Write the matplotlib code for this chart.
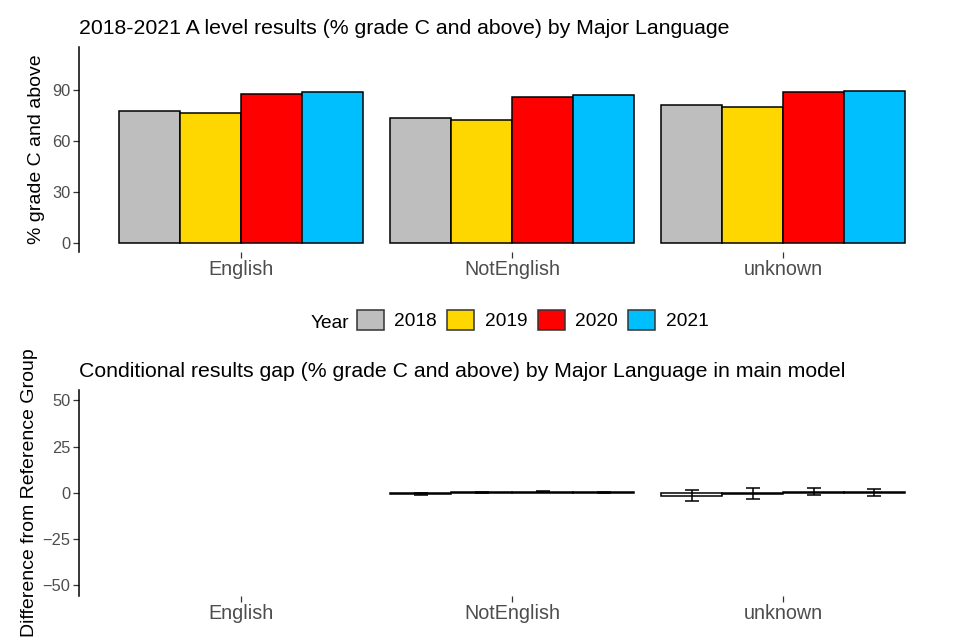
import numpy as np
import matplotlib.pyplot as plt
from matplotlib.patches import Patch

plt.rcParams['font.family'] = ['Liberation Sans', 'DejaVu Sans']

languages = ["English", "NotEnglish", "unknown"]
years = ["2018", "2019", "2020", "2021"]
colours = ["#BEBEBE", "#FFD700", "#FF0000", "#00BFFF"]

# % grade C and above, one list per year (English, NotEnglish, unknown)
pct_2018 = [77.8, 73.5, 81.2]
pct_2019 = [76.6, 72.4, 80.4]
pct_2020 = [88.0, 86.1, 89.2]
pct_2021 = [88.8, 86.9, 89.6]

# conditional gap vs reference group (English is the reference)
gap_2018 = [np.nan, -0.6, -1.5]
gap_2019 = [np.nan, 0.2, -0.5]
gap_2020 = [np.nan, 0.6, 0.6]
gap_2021 = [np.nan, 0.2, 0.3]
err_2018 = [np.nan, 0.6, 3.0]
err_2019 = [np.nan, 0.5, 2.9]
err_2020 = [np.nan, 0.4, 1.8]
err_2021 = [np.nan, 0.4, 1.9]

pct = [pct_2018, pct_2019, pct_2020, pct_2021]
gaps = [gap_2018, gap_2019, gap_2020, gap_2021]
errs = [err_2018, err_2019, err_2020, err_2021]

tick_grey = "#4D4D4D"
x = np.arange(len(languages))
w = 0.225


def style_axes(ax):
    for s in ["top", "right", "bottom"]:
        ax.spines[s].set_visible(False)
    ax.spines["left"].set_linewidth(1.1)
    ax.tick_params(axis="both", colors="#333333", labelcolor=tick_grey,
                   length=4, width=0.9)
    ax.tick_params(axis="x", labelsize=14.2, pad=2)
    ax.tick_params(axis="y", labelsize=11.8, pad=2)
    ax.set_xticks(x)
    ax.set_xticklabels(languages)
    ax.set_xlim(-0.6, 2.6)


fig = plt.figure(figsize=(9.6, 6.4), dpi=100)

ax1 = fig.add_axes([0.082, 0.606, 0.903, 0.321])
for i in range(len(years)):
    ax1.bar(x + (i - 1.5) * w, pct[i], width=w, color=colours[i],
            edgecolor="black", linewidth=1.1)
style_axes(ax1)
ax1.set_ylim(-5.1, 115.5)
ax1.set_yticks([0, 30, 60, 90])
ax1.set_ylabel("% grade C and above", fontsize=14, labelpad=5)
ax1.set_title("2018-2021 A level results (% grade C and above) by Major Language",
              loc="left", fontsize=15.3, pad=9)

ax2 = fig.add_axes([0.082, 0.069, 0.903, 0.322])
for i in range(len(years)):
    ax2.bar(x + (i - 1.5) * w, gaps[i], width=w, color="white",
            edgecolor="black", linewidth=1.1)
    ax2.errorbar(x + (i - 1.5) * w, gaps[i], yerr=errs[i], fmt="none",
                 ecolor="black", elinewidth=1.1, capsize=4.7, capthick=1.1)
style_axes(ax2)
ax2.set_ylim(-55.8, 55.8)
ax2.set_yticks([-50, -25, 0, 25, 50])
ax2.set_ylabel("Difference from Reference Group", fontsize=14, labelpad=3)
ax2.set_title("Conditional results gap (% grade C and above) by Major Language in main model",
              loc="left", fontsize=15.3, pad=9)

handles = [Patch(facecolor=c, edgecolor="#333333", linewidth=1.1) for c in colours]
fig.text(311 / 960, 1 - 321 / 640, "Year", fontsize=13.8, va="center_baseline", ha="left")
fig.legend(handles, years, loc="center left",
           bbox_to_anchor=(349 / 960, 1 - 320 / 640), ncol=4,
           frameon=False, fontsize=13.8, handlelength=1.4, handleheight=1.3,
           handletextpad=0.56, columnspacing=0.54, borderaxespad=0)

fig.savefig("out.png", dpi=100)
